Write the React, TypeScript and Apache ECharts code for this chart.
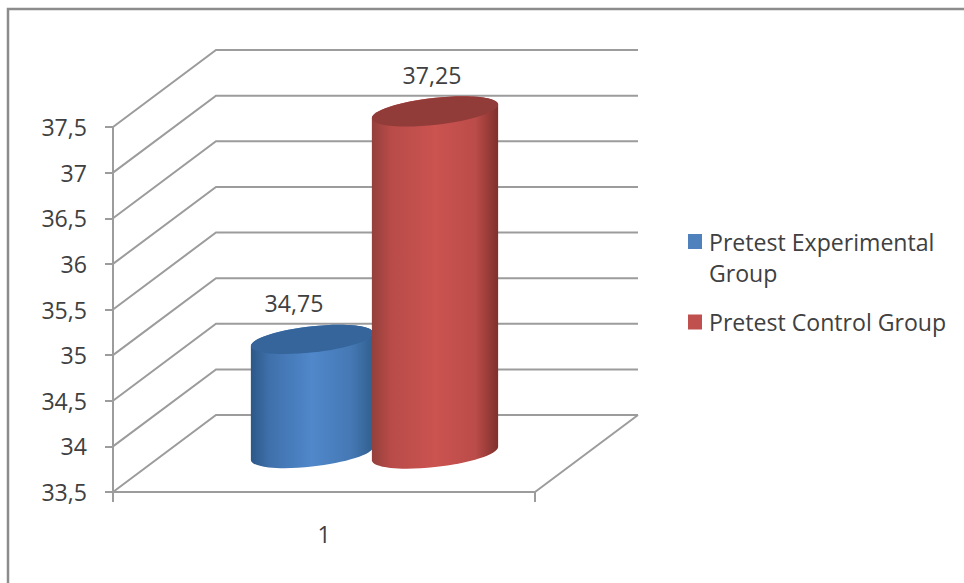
import React, { useEffect, useRef } from "react";
import * as echarts from "echarts";

const categories = ["1"];
const yTicks = [33.5, 34, 34.5, 35, 35.5, 36, 36.5, 37, 37.5];
const seriesNames = ["Pretest Experimental Group", "Pretest Control Group"];
const experimentalValues = [34.75];
const controlValues = [37.25];

const FONT = '"Open Sans", sans-serif';
const FONT_SIZE = 23.1;
const TEXT = "#404040";
const LINE = "#9c9c9c";

// Oblique projection of the chart box: how far the back wall sits from the front plane.
const DEPTH_X = 103;
const DEPTH_Y = -77;
const TILT = (6.4 * Math.PI) / 180;

// Cubic segments along a tilted ellipse from parameter t1 to t2.
const ellipseArc = (cx: number, cy: number, rx: number, ry: number, t1: number, t2: number) => {
  const steps = 4;
  const dt = (t2 - t1) / steps;
  const k = (4 / 3) * Math.tan(dt / 4);
  const c = Math.cos(TILT);
  const s = Math.sin(TILT);
  const at = (t: number) => [
    cx + rx * Math.cos(t) * c + ry * Math.sin(t) * s,
    cy - rx * Math.cos(t) * s + ry * Math.sin(t) * c,
  ];
  const slope = (t: number) => [
    -rx * Math.sin(t) * c + ry * Math.cos(t) * s,
    rx * Math.sin(t) * s + ry * Math.cos(t) * c,
  ];
  let d = "";
  for (let i = 0; i < steps; i++) {
    const a = t1 + i * dt;
    const b = a + dt;
    const [ax, ay] = at(a);
    const [bx, by] = at(b);
    const [adx, ady] = slope(a);
    const [bdx, bdy] = slope(b);
    d += `C${ax + k * adx} ${ay + k * ady} ${bx - k * bdx} ${by - k * bdy} ${bx} ${by}`;
  }
  return { d, start: at(t1), end: at(t2) };
};

const wallItem = (params: any, api: any) => {
  const value = api.value(1);
  const front = api.coord([0, value]);
  const box = params.coordSys;
  const left = box.x;
  const right = box.x + box.width;
  const style = { stroke: LINE, lineWidth: 2, fill: null };
  const children: any[] = [
    {
      type: "polyline",
      shape: {
        points: [
          [left, front[1]],
          [left + DEPTH_X, front[1] + DEPTH_Y],
          [right + DEPTH_X, front[1] + DEPTH_Y],
        ],
      },
      style,
    },
  ];
  if (value === yTicks[0]) {
    children.push({
      type: "line",
      shape: { x1: right, y1: front[1], x2: right + DEPTH_X, y2: front[1] + DEPTH_Y },
      style,
    });
  }
  return { type: "group", children };
};

const cylinderItem = (opts: {
  shift: number;
  rx: number;
  ry: number;
  stops: [number, string][];
  cap: string;
  labelShift: number;
}) => (params: any, api: any) => {
  const band = api.coord([api.value(0), yTicks[0]]);
  const top = api.coord([api.value(0), api.value(1)]);
  const cx = band[0] + DEPTH_X / 2 + opts.shift;
  const bottomY = band[1] + DEPTH_Y / 2;
  const topY = top[1] + DEPTH_Y / 2;
  // Parameter of the ellipse's rightmost point, where the cylinder's side is tangent.
  const t0 = Math.atan2(opts.ry * Math.sin(TILT), opts.rx * Math.cos(TILT));
  const backArc = ellipseArc(cx, topY, opts.rx, opts.ry, t0 + Math.PI, t0 + 2 * Math.PI);
  const frontArc = ellipseArc(cx, bottomY, opts.rx, opts.ry, t0, t0 + Math.PI);
  const body =
    `M${backArc.start[0]} ${backArc.start[1]}${backArc.d}` +
    `L${frontArc.start[0]} ${frontArc.start[1]}${frontArc.d}Z`;
  const capArc = ellipseArc(cx, topY, opts.rx, opts.ry, 0, 2 * Math.PI);
  return {
    type: "group",
    children: [
      {
        type: "path",
        shape: { pathData: body },
        style: {
          fill: new echarts.graphic.LinearGradient(
            0,
            0,
            1,
            0,
            opts.stops.map(([offset, color]) => ({ offset, color })),
          ),
        },
      },
      {
        type: "path",
        shape: { pathData: `M${capArc.start[0]} ${capArc.start[1]}${capArc.d}Z` },
        style: { fill: opts.cap },
      },
      {
        type: "text",
        x: cx + opts.labelShift,
        y: topY - 36,
        style: {
          text: String(api.value(1)).replace(".", ","),
          font: `${FONT_SIZE}px ${FONT}`,
          fill: TEXT,
          align: "center",
          verticalAlign: "middle",
        },
      },
    ],
  };
};

export default function App() {
  const ref = useRef<HTMLDivElement>(null);

  useEffect(() => {
    const chart = echarts.init(ref.current!, null, { renderer: "svg" });
    chart.setOption({
      animation: false,
      backgroundColor: "#ffffff",
      grid: { left: 113, right: 429, top: 127, bottom: 91, containLabel: false },
      xAxis: {
        type: "category",
        data: categories,
        axisLine: { onZero: false, lineStyle: { color: LINE, width: 2 } },
        axisTick: { show: true, length: 10, lineStyle: { color: LINE, width: 2 } },
        axisLabel: { color: TEXT, fontFamily: FONT, fontSize: FONT_SIZE, margin: 30 },
      },
      yAxis: {
        type: "value",
        position: "left",
        min: 33.5,
        max: 37.5,
        interval: 0.5,
        splitLine: { show: false },
        axisLine: { show: true, onZero: false, lineStyle: { color: LINE, width: 2 } },
        axisTick: { show: true, length: 8, lineStyle: { color: LINE, width: 2 } },
        axisLabel: {
          color: TEXT,
          fontFamily: FONT,
          fontSize: FONT_SIZE,
          margin: 26,
          formatter: (v: number) => String(v).replace(".", ","),
        },
      },
      legend: {
        orient: "vertical",
        left: 683,
        top: 221,
        itemWidth: 16,
        itemHeight: 46,
        itemGap: 11,
        selectedMode: false,
        textStyle: { color: TEXT, fontFamily: FONT, fontSize: FONT_SIZE, lineHeight: 31 },
        formatter: (name: string) => name.replace("Experimental Group", "Experimental\nGroup"),
        data: [
          { name: seriesNames[0], icon: "path://M0 0H14V15H0ZM0 46H16V46H0Z" },
          { name: seriesNames[1], icon: "path://M0 0H16V0H0ZM0 15.5H14V30.5H0ZM0 46H16V46H0Z" },
        ],
      },
      graphic: [
        {
          type: "polyline",
          silent: true,
          shape: { points: [[8, 583], [8, 9], [964, 9]] },
          style: { stroke: "#8c8c8c", lineWidth: 2.5, fill: null },
        },
      ],
      series: [
        {
          type: "custom",
          name: "walls",
          clip: false,
          silent: true,
          encode: { x: 0, y: 1 },
          data: yTicks.map((t) => [0, t]),
          renderItem: wallItem,
        },
        {
          type: "custom",
          name: seriesNames[0],
          clip: false,
          silent: true,
          itemStyle: { color: "#4f81bd" },
          encode: { x: 0, y: 1 },
          data: experimentalValues.map((v, i) => [i, v]),
          renderItem: cylinderItem({
            shift: -63.5,
            rx: 61.5,
            ry: 13,
            cap: "#35659b",
            labelShift: -18,
            stops: [
              [0, "#2c5888"],
              [0.15, "#3f70ab"],
              [0.5, "#5088cb"],
              [0.82, "#4578b4"],
              [1, "#31608f"],
            ],
          }),
        },
        {
          type: "custom",
          name: seriesNames[1],
          clip: false,
          silent: true,
          itemStyle: { color: "#c0504d" },
          encode: { x: 0, y: 1 },
          data: controlValues.map((v, i) => [i, v]),
          renderItem: cylinderItem({
            shift: 59.5,
            rx: 63.5,
            ry: 13.5,
            cap: "#923c3a",
            labelShift: -3,
            stops: [
              [0, "#94403c"],
              [0.15, "#b84b48"],
              [0.5, "#cb5350"],
              [0.82, "#bb4c49"],
              [1, "#7f302c"],
            ],
          }),
        },
      ],
    });
    return () => chart.dispose();
  }, []);

  return <div ref={ref} style={{ position: "fixed", left: 0, top: 0, width: 964, height: 583 }} />;
}
